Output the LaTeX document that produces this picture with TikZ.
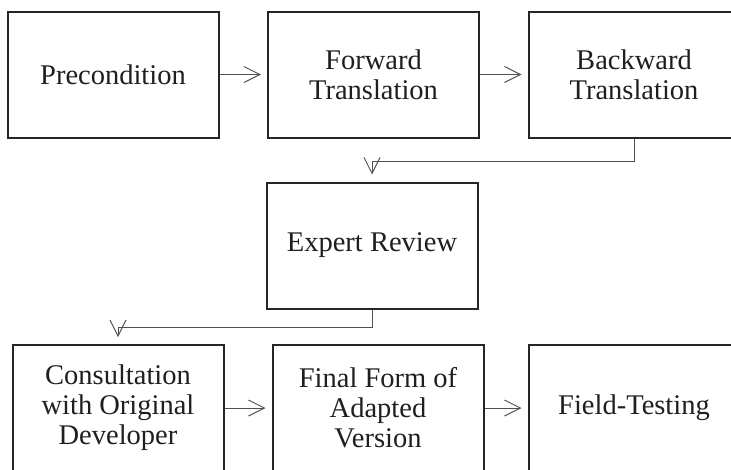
\documentclass[tikz,border=0pt]{standalone}
\usepackage{fontspec}
\setmainfont{Liberation Serif}
\newfontfamily\tmsfont{Liberation Serif}
\usetikzlibrary{arrows.meta}
\definecolor{boxline}{HTML}{262626}
\definecolor{conn}{HTML}{505050}
\tikzset{
  stepbox/.style={draw=boxline, line width=2pt, minimum width=211pt, minimum height=126pt,
    inner sep=0pt, align=center, font=\tmsfont\fontsize{28.5}{30}\selectfont, text=black!88},
  link/.style={draw=conn, line width=1pt, -{Straight Barb[length=16pt,width=16pt,line width=1pt]}},
}
\begin{document}
\begin{tikzpicture}[x=1pt,y=-1pt]
\clip (0,0) rectangle (731,469);
\useasboundingbox (0,0) rectangle (731,469);
\node[stepbox] (pre) at (113,74.5) {Precondition};
\node[stepbox] (fwd) at (373.5,74.5) {Forward\\Translation};
\node[stepbox] (bwd) at (634,74.5) {Backward\\Translation};
\node[stepbox] (exp) at (372,245.5) {Expert Review};
\node[stepbox] (con) at (118,408) {Consultation\\with Original\\Developer};
\node[stepbox] (fin) at (378,408) {Final Form of\\Adapted\\Version};
\node[stepbox] (fld) at (634,408) {Field-Testing};
\draw[link, shorten >=6pt] (pre) -- (fwd);
\draw[link, shorten >=6pt] (fwd) -- (bwd);
\draw[link, shorten >=7pt] (bwd.south) -- ++(0,22.5) -| (exp.north);
\draw[link, shorten >=7pt] (exp.south) -- ++(0,18) -| (con.north);
\draw[link, shorten >=6pt] (con) -- (fin);
\draw[link, shorten >=6pt] (fin) -- (fld);
\end{tikzpicture}
\end{document}
